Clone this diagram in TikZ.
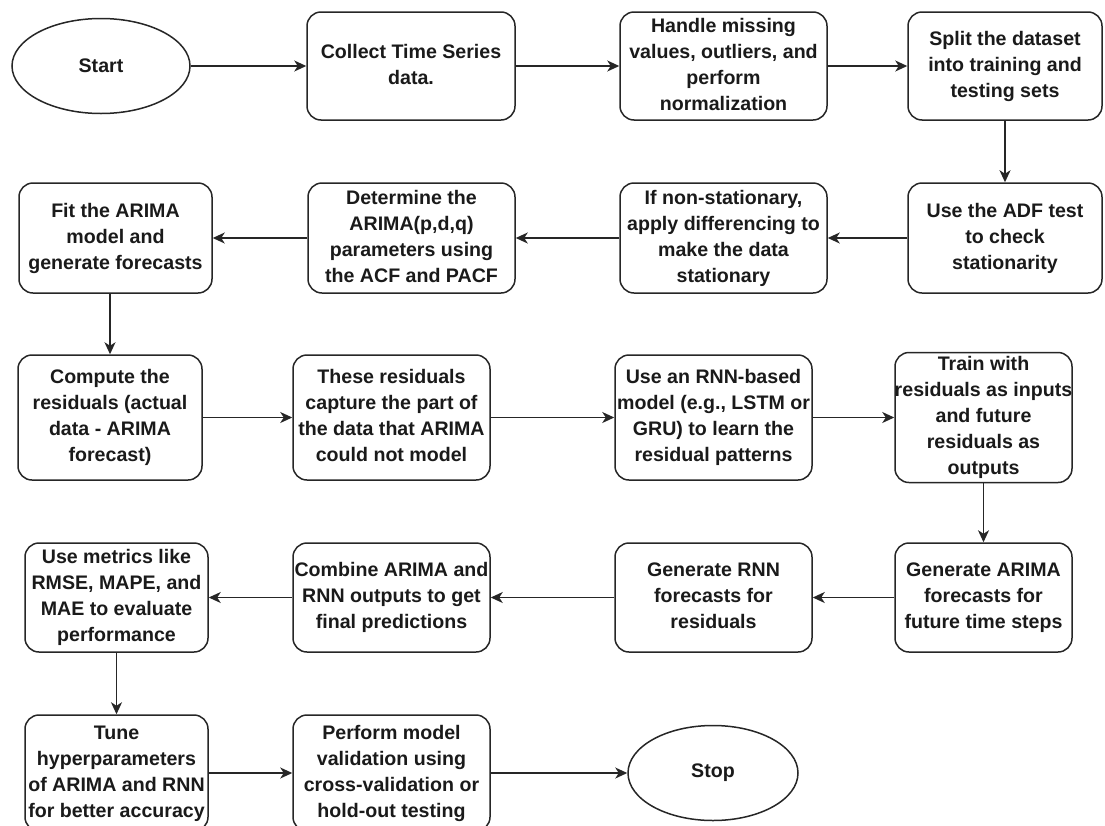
\documentclass[tikz,border=0pt]{standalone}
\usepackage{fontspec}
\setmainfont{Liberation Sans}
\usetikzlibrary{shapes.geometric,arrows.meta}
\definecolor{ln}{HTML}{262626}
\definecolor{tx}{HTML}{1A1A1A}
\newcommand\ml[1]{\makebox[0pt]{\begin{tabular}{@{}c@{}}#1\end{tabular}}}
\tikzset{
  base/.style={draw=ln, line width=1.5pt, text=tx, fill=white,
    font=\fontsize{19.6}{26}\selectfont\bfseries, inner sep=0pt},
  pbox/.style={base, rectangle, rounded corners=14pt},
  term/.style={base, ellipse},
  arr/.style={draw=ln, line width=1.5pt, -{Stealth[length=12pt,width=11pt,inset=3.5pt]}},
}
\begin{document}
\begin{tikzpicture}[x=1pt,y=-1pt]
\useasboundingbox (0,0) rectangle (1105,825);
\clip (0,0) rectangle (1105,825);
% row 1
\node[term, minimum width=178pt, minimum height=95pt] (start) at (101,66) {Start};
\node[pbox, minimum width=208pt, minimum height=108pt] (collect) at (411,66) {\ml{Collect Time Series\\data.}};
\node[pbox, minimum width=207pt, minimum height=108pt] (handle) at (723.5,66) {\ml{Handle missing\\values, outliers, and\\perform\\normalization}};
\node[pbox, minimum width=194pt, minimum height=108pt] (split) at (1005,66) {\ml{Split the dataset\\into training and\\testing sets}};
% row 2
\node[pbox, minimum width=193pt, minimum height=110pt] (fit) at (115.5,238) {\ml{Fit the ARIMA\\model and\\generate forecasts}};
\node[pbox, minimum width=207pt, minimum height=110pt] (determine) at (411.5,238) {\ml{Determine the\\ARIMA(p,d,q)\\parameters using\\the ACF and PACF}};
\node[pbox, minimum width=207pt, minimum height=110pt] (ifns) at (723.5,238) {\ml{If non-stationary,\\apply differencing to\\make the data\\stationary}};
\node[pbox, minimum width=194pt, minimum height=110pt] (adf) at (1005,238) {\ml{Use the ADF test\\to check\\stationarity}};
% row 3
\node[pbox, minimum width=184pt, minimum height=125pt] (compute) at (110,417.5) {\ml{Compute the\\residuals (actual\\data - ARIMA\\forecast)}};
\node[pbox, minimum width=197pt, minimum height=125pt] (these) at (391.5,417.5) {\ml{These residuals\\capture the part of\\the data that ARIMA\\could not model}};
\node[pbox, minimum width=197pt, minimum height=125pt] (rnn) at (713.5,417.5) {\ml{Use an RNN-based\\model (e.g., LSTM or\\GRU) to learn the\\residual patterns}};
\node[pbox, minimum width=177pt, minimum height=125pt] (train) at (983.5,417.5) {\ml{Train with\\residuals as inputs\\and future\\residuals as\\outputs}};
% row 4
\node[pbox, minimum width=183pt, minimum height=109pt] (metrics) at (116.5,597.5) {\ml{Use metrics like\\RMSE, MAPE, and\\MAE to evaluate\\performance}};
\node[pbox, minimum width=197pt, minimum height=109pt] (combine) at (391.5,597.5) {\ml{Combine ARIMA and\\RNN outputs to get\\final predictions}};
\node[pbox, minimum width=197pt, minimum height=109pt] (genrnn) at (713.5,597.5) {\ml{Generate RNN\\forecasts for\\residuals}};
\node[pbox, minimum width=177pt, minimum height=109pt] (genarima) at (983.5,597.5) {\ml{Generate ARIMA\\forecasts for\\future time steps}};
% row 5
\node[pbox, minimum width=183pt, minimum height=116pt] (tune) at (116.5,773) {\ml{Tune\\hyperparameters\\of ARIMA and RNN\\for better accuracy}};
\node[pbox, minimum width=197pt, minimum height=116pt] (perform) at (391.5,773) {\ml{Perform model\\validation using\\cross-validation or\\hold-out testing}};
\node[term, minimum width=170pt, minimum height=95pt] (stop) at (713,773) {Stop};
% connectors
\draw[arr] (start) -- (collect);
\draw[arr] (collect) -- (handle);
\draw[arr] (handle) -- (split);
\draw[arr] (split) -- (adf);
\draw[arr] (adf) -- (ifns);
\draw[arr] (ifns) -- (determine);
\draw[arr] (determine) -- (fit);
\draw[arr] (fit.south -| compute.north) -- (compute.north);
\draw[arr] (compute) -- (these);
\draw[arr] (these) -- (rnn);
\draw[arr] (rnn) -- (train);
\draw[arr] (train) -- (genarima);
\draw[arr] (genarima) -- (genrnn);
\draw[arr] (genrnn) -- (combine);
\draw[arr] (combine) -- (metrics);
\draw[arr] (metrics) -- (tune);
\draw[arr] (tune) -- (perform);
\draw[arr] (perform) -- (stop);
\end{tikzpicture}
\end{document}
